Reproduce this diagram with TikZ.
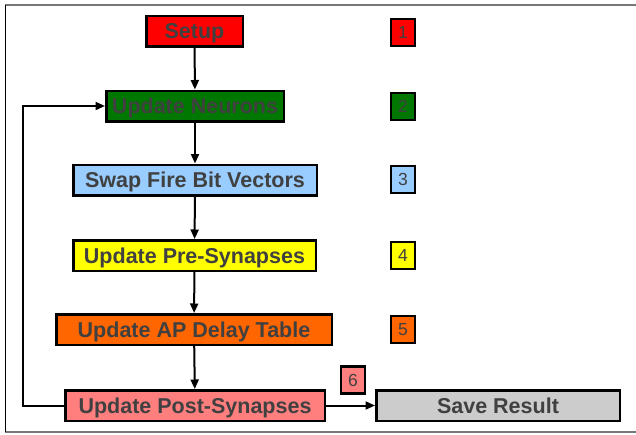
\documentclass[tikz,border=0pt]{standalone}
\usepackage{fontspec}
\setmainfont{Liberation Sans}
\usetikzlibrary{arrows.meta}
\definecolor{txt}{HTML}{404040}
\definecolor{cred}{HTML}{FF0000}
\definecolor{cgreen}{HTML}{007700}
\definecolor{cblue}{HTML}{99CCFF}
\definecolor{cyellow}{HTML}{FFFF00}
\definecolor{corange}{HTML}{FF6600}
\definecolor{cpink}{HTML}{FF7F7F}
\definecolor{cgray}{HTML}{CCCCCC}
\definecolor{frame}{HTML}{777777}
\tikzset{
  stepbox/.style={draw=black, line width=2.5pt, inner sep=0pt, minimum height=30.5pt,
    text height=15.4pt, text depth=0pt,
    text=txt, font=\fontsize{21.5}{21.5}\selectfont\bfseries},
  numbox/.style={draw=black, line width=2.2pt, inner sep=0pt, minimum width=24pt, minimum height=27pt,
    text height=12.5pt, text depth=0pt,
    text=txt, font=\fontsize{17.5}{17.5}\selectfont},
  conn/.style={line width=2pt, -{Triangle[length=9.5pt,width=8pt]}},
}
\begin{document}
\begin{tikzpicture}[x=1pt,y=-1pt]
\useasboundingbox (0,0) rectangle (636,434);
% frame
\draw[frame, line width=1.8pt] (5,5) -- (636,5);
\draw[frame, line width=1.8pt] (5,432) -- (636,432);
\draw[black, line width=1pt] (5,5) -- (5,432);
% steps
\node[stepbox, fill=cred, minimum width=96.5pt] (setup) at (194.5,31) {Setup};
\node[stepbox, fill=cgreen, minimum width=177.5pt] (neur) at (195,106) {Update Neurons};
\node[stepbox, fill=cblue, minimum width=243.5pt] (swap) at (195,180) {Swap Fire Bit Vectors};
\node[stepbox, fill=cyellow, minimum width=242.5pt] (pre) at (194.5,255.5) {Update Pre-Synapses};
\node[stepbox, fill=corange, minimum width=275.5pt] (ap) at (194,329.5) {Update AP Delay Table};
\node[stepbox, fill=cpink, minimum width=259.5pt] (post) at (195,405.5) {Update Post-Synapses};
\node[stepbox, fill=cgray, minimum width=243.5pt] (save) at (498,405.5) {Save Result};
% numbers
\node[numbox, fill=cred] (n1) at (403,32.5) {1};
\node[numbox, fill=cgreen] (n2) at (403,106.5) {2};
\node[numbox, fill=cblue] (n3) at (403,179.5) {3};
\node[numbox, fill=cyellow] (n4) at (403,255.5) {4};
\node[numbox, fill=corange] (n5) at (403,329.5) {5};
\node[numbox, fill=cpink] (n6) at (353,380) {6};
% connectors
\draw[conn] (setup) -- (neur);
\draw[conn] (neur) -- (swap);
\draw[conn] (swap) -- (pre);
\draw[conn] (pre) -- (ap);
\draw[conn] (ap) -- (post);
\draw[conn] (post) -- (save);
\coordinate (lb) at (23,405.5);
\coordinate (lt) at (23,106);
\draw[conn] (post.west) -- (lb) -- (lt) -- (neur.west);
\end{tikzpicture}
\end{document}
